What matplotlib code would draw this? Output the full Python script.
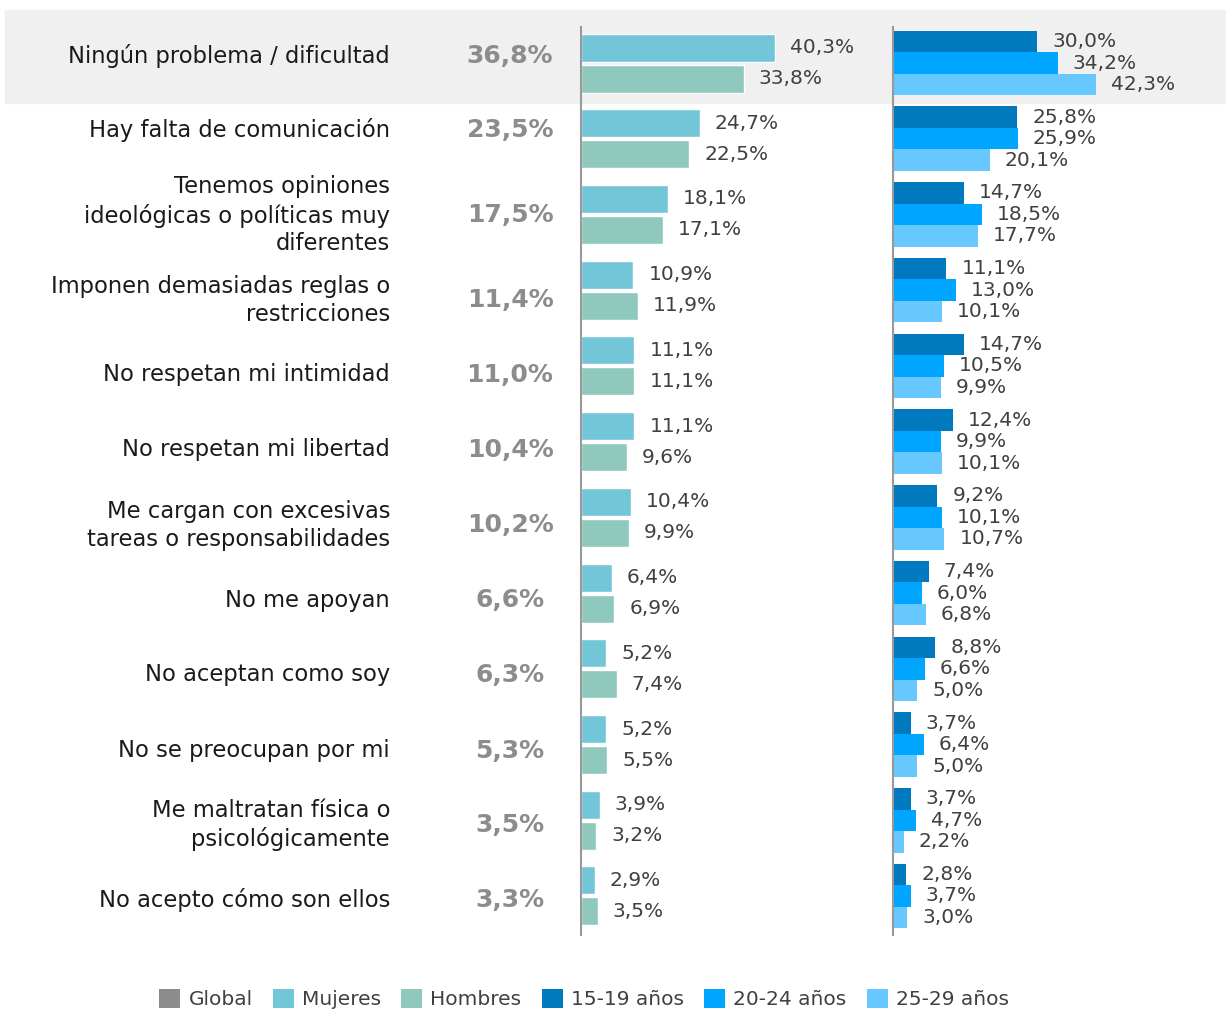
import matplotlib
matplotlib.use("Agg")
import matplotlib.pyplot as plt
import matplotlib.transforms as mtransforms
from matplotlib.patches import Patch, Rectangle
import numpy as np

plt.rcParams['font.family'] = ['DejaVu Sans']

# --- data ---------------------------------------------------------------
categories = [
    "Ningún problema / dificultad",
    "Hay falta de comunicación",
    "Tenemos opiniones\nideológicas o políticas muy\ndiferentes",
    "Imponen demasiadas reglas o\nrestricciones",
    "No respetan mi intimidad",
    "No respetan mi libertad",
    "Me cargan con excesivas\ntareas o responsabilidades",
    "No me apoyan",
    "No aceptan como soy",
    "No se preocupan por mi",
    "Me maltratan física o\npsicológicamente",
    "No acepto cómo son ellos",
]
global_pct = [36.8, 23.5, 17.5, 11.4, 11.0, 10.4, 10.2, 6.6, 6.3, 5.3, 3.5, 3.3]
mujeres = [40.3, 24.7, 18.1, 10.9, 11.1, 11.1, 10.4, 6.4, 5.2, 5.2, 3.9, 2.9]
hombres = [33.8, 22.5, 17.1, 11.9, 11.1, 9.6, 9.9, 6.9, 7.4, 5.5, 3.2, 3.5]
edad_15_19 = [30.0, 25.8, 14.7, 11.1, 14.7, 12.4, 9.2, 7.4, 8.8, 3.7, 3.7, 2.8]
edad_20_24 = [34.2, 25.9, 18.5, 13.0, 10.5, 9.9, 10.1, 6.0, 6.6, 6.4, 4.7, 3.7]
edad_25_29 = [42.3, 20.1, 17.7, 10.1, 9.9, 10.1, 10.7, 6.8, 5.0, 5.0, 2.2, 3.0]
legend_labels = ["Global", "Mujeres", "Hombres", "15-19 años", "20-24 años", "25-29 años"]

# --- style --------------------------------------------------------------
c_global = "#8c8c8c"
c_muj = "#73c5d8"
c_hom = "#8fc9be"
c_a1 = "#0079bf"
c_a2 = "#00a5ff"
c_a3 = "#66c8ff"
c_val = "#404040"
colors = [c_global, c_muj, c_hom, c_a1, c_a2, c_a3]

W, H = 1226, 1011
ROW = 75.7          # px per category row
PX_PER_PCT = 4.81   # px per percentage point
label_shift = [-7, -9, 1, 10, 9, 8, 8, 7, 6, 6, 5, 4]  # px, text vs bar centre

fig = plt.figure(figsize=(W / 100, H / 100), dpi=100)

ax_top, ax_bot = 27, 935
ylim = (11 + (ax_bot - 896) / ROW, -(63 - ax_top) / ROW)


def make_ax(x0, x1):
    ax = fig.add_axes([x0 / W, 1 - ax_bot / H, (x1 - x0) / W, (ax_bot - ax_top) / H])
    ax.set_xlim(0, (x1 - x0) / PX_PER_PCT)
    ax.set_ylim(*ylim)
    ax.patch.set_alpha(0)
    for s in ["top", "right", "bottom"]:
        ax.spines[s].set_visible(False)
    ax.spines["left"].set_color("#999999")
    ax.spines["left"].set_linewidth(1.5)
    ax.set_xticks([])
    ax.set_yticks([])
    return ax


ax_mid = make_ax(581, 893)
ax_age = make_ax(893, 1226)

# highlighted first row
fig.patches.append(Rectangle((5 / W, 1 - 103 / H), (W - 5) / W, 93 / H,
                             transform=fig.transFigure, color="#f0f0f0", zorder=-10))

y = np.arange(len(categories))


def fmt(v):
    return f"{v:.1f}%".replace(".", ",")


# middle panel: gender
off_m, h_m = 15.5 / ROW, 28 / ROW
for vals, dy, col in [(mujeres, -off_m, c_muj), (hombres, off_m, c_hom)]:
    ax_mid.barh(y + dy, vals, height=h_m, color=col, edgecolor="white", linewidth=1)
    for yi, v in zip(y, vals):
        ax_mid.annotate(fmt(v), (v, yi + dy), xytext=(15, 0), textcoords="offset pixels",
                        va="center", ha="left", fontsize=14.5, color=c_val)

# right panel: age
off_a = 21.5 / ROW
for vals, dy, col in [(edad_15_19, -off_a, c_a1), (edad_20_24, 0, c_a2), (edad_25_29, off_a, c_a3)]:
    ax_age.barh(y + dy, vals, height=off_a, color=col, edgecolor="none")
    for yi, v in zip(y, vals):
        ax_age.annotate(fmt(v), (v, yi + dy), xytext=(15, 0), textcoords="offset pixels",
                        va="center", ha="left", fontsize=14.5, color=c_val)

# category labels and global values
trans = mtransforms.blended_transform_factory(fig.transFigure, ax_mid.transData)
for yi, cat, g, sh in zip(y, categories, global_pct, label_shift):
    ty = yi + sh / ROW
    fig.text(390 / W, ty, cat, transform=trans, ha="right", va="center",
             fontsize=16.3, color="#1a1a1a", linespacing=1.27)
    fig.text(510 / W, ty, fmt(g), transform=trans, ha="center", va="center",
             fontsize=18, fontweight="bold", color=c_global)

handles = [Patch(facecolor=c, edgecolor="none") for c in colors]
fig.legend(handles, legend_labels, loc="center", bbox_to_anchor=(584 / W, 1 - 999 / H),
           ncol=6, frameon=False, fontsize=14.5, handlelength=1.05, handleheight=1.05,
           handletextpad=0.4, columnspacing=1.0, labelcolor=c_val)

fig.savefig("out.png", dpi=100)
